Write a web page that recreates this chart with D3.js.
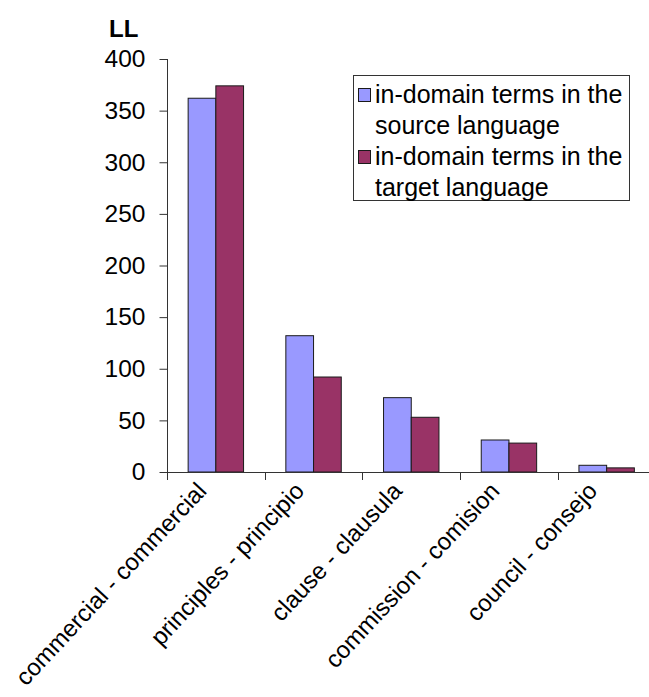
<!DOCTYPE html>
<html><head><meta charset="utf-8">
<script src="https://cdn.jsdelivr.net/npm/d3@7"></script>
<style>body{margin:0;background:#fff}svg{display:block}</style>
</head><body>
<svg id="chart" width="649" height="697"></svg>
<script>
const categories = ["commercial - commercial","principles - principio","clause - clausula","commission - comision","council - consejo"];
const seriesNames = ["in-domain terms in the source language","in-domain terms in the target language"];
const sourceValues = [362, 132, 72, 31, 6.5];
const targetValues = [374, 92, 53, 28, 4];
const yTicks = [0, 50, 100, 150, 200, 250, 300, 350, 400];
const colors = ["#9999FF", "#993366"];

const svg = d3.select("#chart");
const font = "'Liberation Sans', Arial, sans-serif";
const y = d3.scaleLinear().domain([0, 400]).range([472, 59]);
const x0 = d3.scaleBand().domain(categories).range([167, 655.5]).padding(0);
const x1 = d3.scaleBand().domain([0, 1]).range([0, x0.bandwidth()]).paddingInner(0).paddingOuter(0.763);

// bars
const rows = categories.map((c, i) => ({c, v: [sourceValues[i], targetValues[i]]}));
const g = svg.append("g");
rows.forEach(r => {
  r.v.forEach((v, k) => {
    g.append("rect")
      .attr("x", x0(r.c) + x1(k))
      .attr("y", y(v))
      .attr("width", x1.bandwidth())
      .attr("height", y(0) - y(v))
      .attr("fill", colors[k])
      .attr("stroke", "#1a1a1a")
      .attr("stroke-width", 1);
  });
});

// y axis
const yAxis = svg.append("g").attr("transform", "translate(167.5,0)")
  .call(d3.axisLeft(y).tickValues(yTicks).tickSize(8).tickPadding(14).tickSizeOuter(0));
yAxis.select(".domain").attr("stroke", "#333").attr("d", "M0," + y(400) + "V480");
yAxis.selectAll(".tick line").attr("stroke", "#333");
yAxis.selectAll("text").attr("font-family", font).attr("font-size", 24.5).attr("fill", "#000");

// x axis line and ticks
svg.append("line").attr("x1", 160).attr("x2", 649).attr("y1", y(0) + 0.5).attr("y2", y(0) + 0.5).attr("stroke", "#333");
categories.forEach(c => {
  const xp = Math.round(x0(c)) + 0.5;
  svg.append("line").attr("x1", xp).attr("x2", xp).attr("y1", y(0)).attr("y2", y(0) + 8).attr("stroke", "#333");
});

// category labels
categories.forEach(c => {
  const cx = x0(c) + x0.bandwidth() / 2 - 8;
  svg.append("text")
    .attr("transform", `translate(${cx},${y(0) + 20}) rotate(-47)`)
    .attr("text-anchor", "end")
    .attr("font-family", font).attr("font-size", 24).attr("fill", "#000")
    .text(c);
});

// title
svg.append("text").attr("x", 109).attr("y", 37).attr("font-family", font)
  .attr("font-size", 24).attr("font-weight", "bold").text("LL");

// legend
const lg = svg.append("g");
lg.append("rect").attr("x", 353.5).attr("y", 75.5).attr("width", 276).attr("height", 125)
  .attr("fill", "#fff").attr("stroke", "#333");
const legendLines = [["in-domain terms in the", "source language"], ["in-domain terms in the", "target language"]];
legendLines.forEach((lines, k) => {
  const top = 88 + k * 62;
  lg.append("rect").attr("x", 358.5).attr("y", top + 0.5).attr("width", 12).attr("height", 13)
    .attr("fill", colors[k]).attr("stroke", "#1a1a1a");
  lines.forEach((t, j) => {
    lg.append("text").attr("x", 375).attr("y", top + 15 + j * 31)
      .attr("font-family", font).attr("font-size", 25).attr("fill", "#000").text(t);
  });
});
</script>
</body></html>
